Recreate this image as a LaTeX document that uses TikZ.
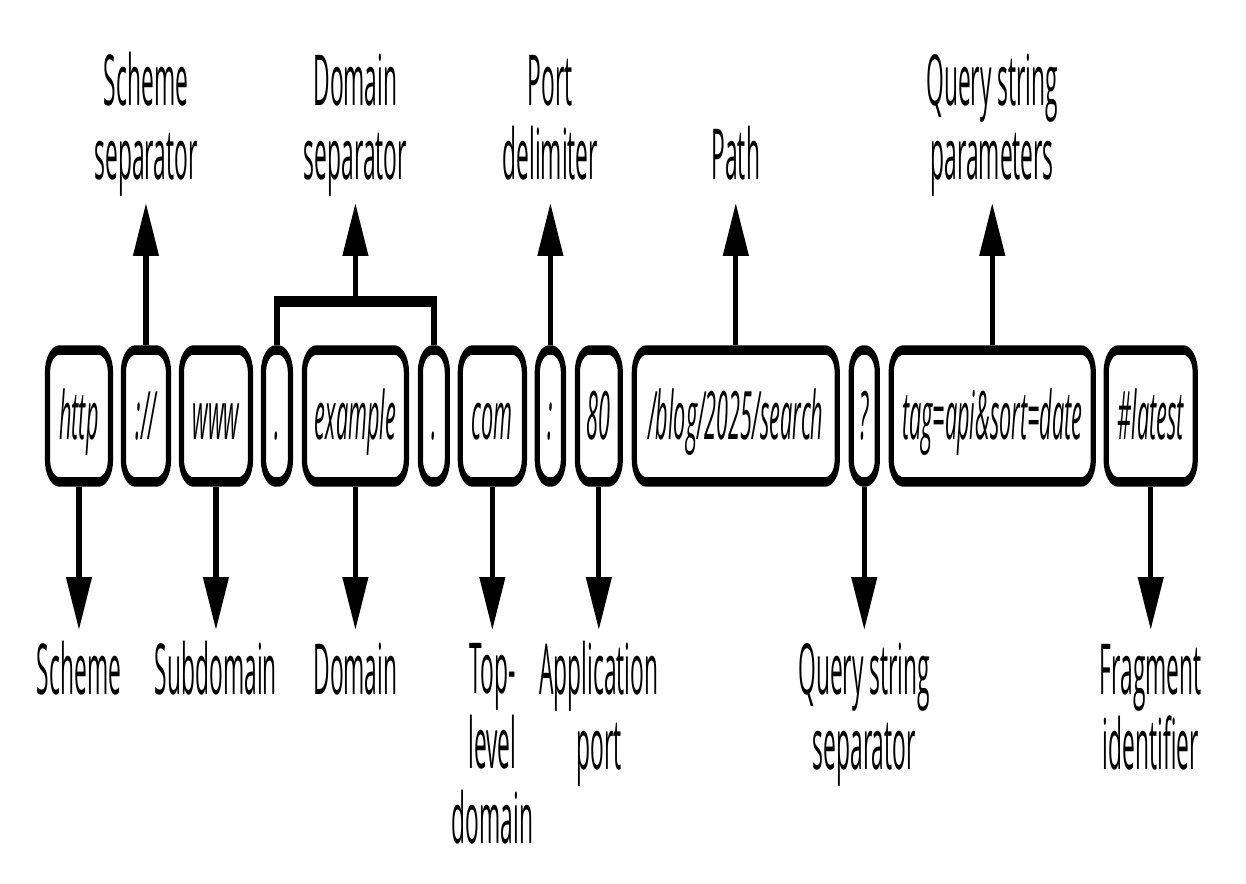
\documentclass[tikz,border=0pt]{standalone}
\usepackage{fontspec}
\setmainfont{Open Sans}[FakeStretch=0.59]
\usetikzlibrary{arrows.meta}

\begin{document}
\begin{tikzpicture}[x=0.02cm, y=-0.02cm,
    part/.style={draw, line width=0.19cm, rounded corners=0.44cm, minimum height=2.64cm,
        inner sep=0pt, text height=34pt, text depth=7pt, font=\fontsize{38}{40}\selectfont\itshape},
    lbl/.style={align=center, anchor=base, inner sep=0pt, font=\fontsize{40}{42.5}\selectfont},
    arr/.style={line width=0.19cm, -{Triangle[length=1.06cm, width=0.9cm]}}]
    \useasboundingbox (0,0) rectangle (1246,884);

    \begin{scope}[transform canvas={xscale=0.55}, x=0.036364cm]
    % Parti dell'URL
    \node[part, minimum width=2.29cm] (scheme) at (79,416) {http};
    \node[part, minimum width=1.64cm] (schemesep) at (146,416) {://};
    \node[part, minimum width=2.51cm] (subdomain) at (216,416) {www};
    \node[part, minimum width=0.98cm] (dotA) at (277,416) {.};
    \node[part, minimum width=3.71cm] (domain) at (355.5,416) {example};
    \node[part, minimum width=0.98cm] (dotB) at (434,416) {.};
    \node[part, minimum width=2.33cm] (tld) at (492.5,416) {com};
    \node[part, minimum width=0.95cm] (portsep) at (550.5,416) {:};
    \node[part, minimum width=1.56cm] (port) at (599,416) {80};
    \node[part, minimum width=7.38cm] (path) at (736,416) {/blog/2025/search};
    \node[part, minimum width=0.95cm] (querysep) at (864.5,416) {?};
    \node[part, minimum width=7.35cm] (query) at (992.5,416) {tag=api\&sort=date};
    \node[part, minimum width=3.24cm] (fragment) at (1151,416) {\#latest};

    % Etichette in alto (base = ultima riga)
    \node[lbl] (lblSchemeSep) at (146,180) {Scheme\\separator};
    \node[lbl] (lblDomainSep) at (355.5,180) {Domain\\separator};
    \node[lbl] (lblPortSep) at (550.5,180) {Port\\delimiter};
    \node[lbl] (lblPath) at (736,180) {Path};
    \node[lbl] (lblQuery) at (992.5,180) {Query string\\parameters};

    % Etichette in basso
    \node[lbl] (lblScheme) at (79,694) {Scheme};
    \node[lbl] (lblSubdomain) at (216,694) {Subdomain};
    \node[lbl] (lblDomain) at (355.5,694) {Domain};
    \node[lbl] (lblTld) at (492.5,843) {Top-\\level\\domain};
    \node[lbl] (lblPort) at (599,769) {Application\\port};
    \node[lbl] (lblQuerySep) at (864.5,769) {Query string\\separator};
    \node[lbl] (lblFragment) at (1151,769) {Fragment\\identifier};

    % Punte delle frecce
    \coordinate (up) at (0,203);
    \coordinate (down) at (0,630);
    \coordinate (bar) at (355.5,302);

    % Frecce verso l'alto
    \draw[arr] (schemesep.north) -- (schemesep.north |- up);
    \draw[line width=0.22cm] (dotA.north) |- (bar) -| (dotB.north);
    \draw[arr] (bar) -- (bar |- up);
    \draw[arr] (portsep.north) -- (portsep.north |- up);
    \draw[arr] (path.north) -- (path.north |- up);
    \draw[arr] (query.north) -- (query.north |- up);

    % Frecce verso il basso
    \draw[arr] (scheme.south) -- (scheme.south |- down);
    \draw[arr] (subdomain.south) -- (subdomain.south |- down);
    \draw[arr] (domain.south) -- (domain.south |- down);
    \draw[arr] (tld.south) -- (tld.south |- down);
    \draw[arr] (port.south) -- (port.south |- down);
    \draw[arr] (querysep.south) -- (querysep.south |- down);
    \draw[arr] (fragment.south) -- (fragment.south |- down);
    \end{scope}
\end{tikzpicture}
\end{document}
